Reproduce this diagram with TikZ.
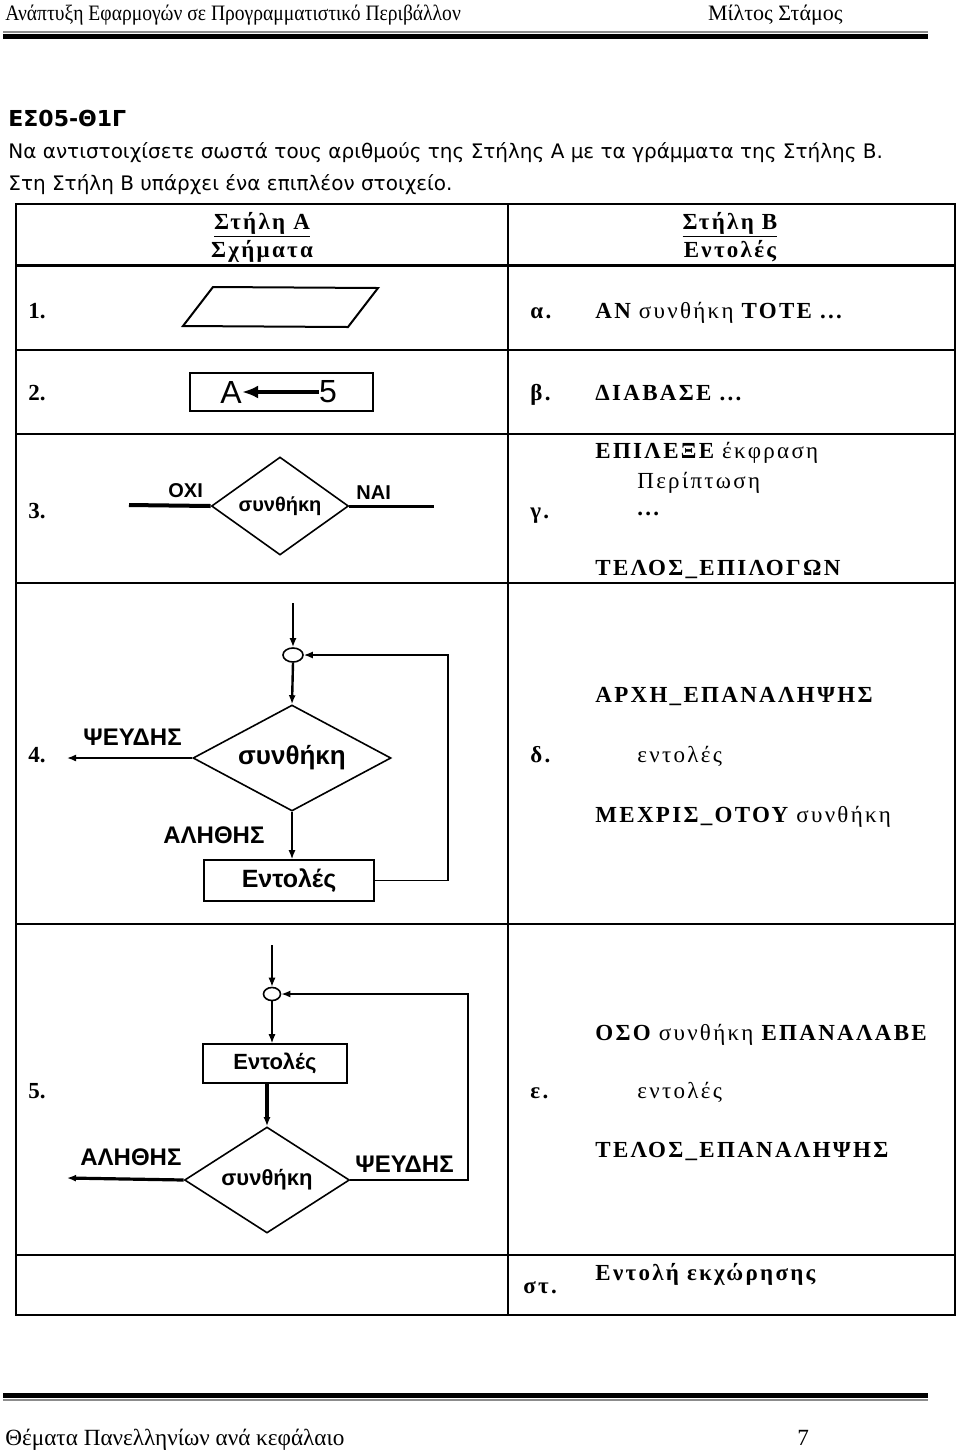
\documentclass[tikz,border=0pt]{standalone}
\usepackage{fontspec}
\setmainfont{Liberation Serif}
\newfontfamily\narrowfont[FakeStretch=0.89]{Liberation Serif}
\newfontfamily\titlefont{DejaVu Sans}
\newfontfamily\flowfont{Liberation Sans}
\newfontfamily\tabfont[LetterSpace=10]{Liberation Serif}
\usetikzlibrary{arrows.meta, positioning, shapes.geometric}

\begin{document}
\begin{tikzpicture}[x=0.5pt, y=-0.5pt,
  txt/.style = {anchor=base west, inner sep=0pt},
  pagetxt/.style = {txt, font=\fontsize{11}{12}\selectfont},
  titletxt/.style = {txt, font=\titlefont\fontsize{10}{12}\selectfont},
  tabtxt/.style = {txt, font=\tabfont\fontsize{11.5}{12}\selectfont},
  numtxt/.style = {txt, font=\bfseries\fontsize{11.5}{12}\selectfont},
  flowlbl/.style = {inner sep=0pt, font=\flowfont\bfseries\fontsize{12}{12}\selectfont},
  decision/.style = {diamond, draw, line width=0.8pt, inner sep=0pt},
  process/.style = {draw, line width=0.8pt, inner sep=0pt},
  junction/.style = {ellipse, draw, line width=0.8pt, inner sep=0pt, minimum width=10pt, minimum height=7pt},
  arrow/.style = {line width=0.8pt, -{Latex[length=4.5pt,width=3.5pt]}},
  grid/.style = {line width=1pt}
]
  \useasboundingbox (0,0) rectangle (960,1453);

  % ======================================================
  % page header and footer
  % ======================================================
  \node[pagetxt, font=\narrowfont\fontsize{11}{12}\selectfont] (headleft) at (5,20) {Ανάπτυξη Εφαρμογών σε Προγραμματιστικό Περιβάλλον};
  \node[pagetxt, anchor=base east] (headright) at (843,20) {Μίλτος Στάμος};
  \fill[black!45] (3,31) rectangle (928,32.5);
  \fill (3,33.5) rectangle (928,39);

  \fill (3,1393) rectangle (928,1398);
  \fill[black!45] (3,1399) rectangle (928,1400.5);
  \node[pagetxt, font=\fontsize{11.6}{12}\selectfont] (footleft) at (5,1445) {Θέματα Πανελληνίων ανά κεφάλαιο};
  \node[pagetxt, font=\fontsize{11.6}{12}\selectfont] (pagenum) at (797,1445) {7};

  % question text
  \node[titletxt, font=\titlefont\bfseries\fontsize{11}{12}\selectfont] (qcode) at (8,126) {ΕΣ05-Θ1Γ};
  \node[titletxt] (qline1) at (8,158) {Να αντιστοιχίσετε σωστά τους αριθμούς της Στήλης Α με τα γράμματα της Στήλης Β.};
  \node[titletxt] (qline2) at (8,190) {Στη Στήλη Β υπάρχει ένα επιπλέον στοιχείο.};

  % ======================================================
  % table grid
  % ======================================================
  \draw[grid] (16,204) rectangle (955,1315);
  \draw[grid] (508,204) -- (508,1315);
  \draw[line width=1.5pt] (16,265) -- (955,265);
  \foreach \y in {350,434,583,924,1255}
    \draw[grid] (16,\y) -- (955,\y);

  % column heads
  \node[tabtxt, anchor=base, font=\tabfont\bfseries\fontsize{11.5}{12}\selectfont] (headA) at (262,229) {\underline{Στήλη Α}};
  \node[tabtxt, anchor=base, font=\tabfont\bfseries\fontsize{11.5}{12}\selectfont] (subA) at (262,257) {Σχήματα};
  \node[tabtxt, anchor=base, font=\tabfont\bfseries\fontsize{11.5}{12}\selectfont] (headB) at (730,229) {\underline{Στήλη Β}};
  \node[tabtxt, anchor=base, font=\tabfont\bfseries\fontsize{11.5}{12}\selectfont] (subB) at (730,257) {Εντολές};

  % row numbers
  \node[numtxt] (n1) at (28,318) {1.};
  \node[numtxt] (n2) at (28,400) {2.};
  \node[numtxt] (n3) at (28,518) {3.};
  \node[numtxt] (n4) at (28,762) {4.};
  \node[numtxt] (n5) at (28,1098) {5.};

  % row letters
  \node[tabtxt] (la) at (530,318) {\bfseries α.};
  \node[tabtxt] (lb) at (530,400) {\bfseries β.};
  \node[tabtxt] (lg) at (530,518) {\bfseries γ.};
  \node[tabtxt] (ld) at (530,762) {\bfseries δ.};
  \node[tabtxt] (le) at (530,1098) {\bfseries ε.};
  \node[tabtxt] (lst) at (523,1293) {\bfseries στ.};

  % ======================================================
  % Column B commands
  % ======================================================
  \node[tabtxt] (cmdif) at (595,318) {\bfseries ΑΝ \mdseries συνθήκη \bfseries ΤΟΤΕ ...};
  \node[tabtxt] (cmdread) at (595,400) {\bfseries ΔΙΑΒΑΣΕ ...};
  \node[tabtxt] (cmdsel) at (595,458) {\bfseries ΕΠΙΛΕΞΕ \mdseries έκφραση};
  \node[tabtxt] (cmdcase) at (637,488) {Περίπτωση};
  \node[tabtxt] (cmddots) at (637,515) {\bfseries ...};
  \node[tabtxt] (cmdselend) at (595,575) {\bfseries ΤΕΛΟΣ\_ΕΠΙΛΟΓΩΝ};

  \node[tabtxt] (cmdrep) at (595,702) {\bfseries ΑΡΧΗ\_ΕΠΑΝΑΛΗΨΗΣ};
  \node[tabtxt] (cmdrepbody) at (637,762) {εντολές};
  \node[tabtxt] (cmduntil) at (595,822) {\bfseries ΜΕΧΡΙΣ\_ΟΤΟΥ \mdseries συνθήκη};

  \node[tabtxt] (cmdwhile) at (595,1040) {\bfseries ΟΣΟ \mdseries συνθήκη \bfseries ΕΠΑΝΑΛΑΒΕ};
  \node[tabtxt] (cmdwhilebody) at (637,1098) {εντολές};
  \node[tabtxt] (cmdwhileend) at (595,1157) {\bfseries ΤΕΛΟΣ\_ΕΠΑΝΑΛΗΨΗΣ};

  \node[tabtxt] (cmdassign) at (595,1280) {\bfseries Εντολή εκχώρησης};

  % ======================================================
  % Shape 1: input / output
  % ======================================================
  \draw[line width=1pt] (213,287) -- (378,288) -- (348,327) -- (183,326) -- cycle;

  % Shape 2: assignment
  \node[process, line width=1pt, minimum width=91.5pt, minimum height=19pt] (assignbox) at (281.5,392) {};
  \node[inner sep=0pt, font=\flowfont\fontsize{16}{16}\selectfont] (varA) at (231,392) {A};
  \node[inner sep=0pt, font=\flowfont\fontsize{16}{16}\selectfont] (valfive) at (328,392) {5};
  \draw[line width=2pt, -{Latex[length=8pt,width=6.5pt]}] (valfive.west) -- (varA.east);

  % Shape 3: decision
  \node[decision, minimum width=68.5pt, minimum height=49pt] (cond3) at (280,506) {};
  \node[flowlbl, font=\flowfont\bfseries\fontsize{10}{10}\selectfont] (cond3txt) at (cond3) {συνθήκη};
  \coordinate (no3) at (129,505);
  \coordinate (yes3) at (434,506);
  \draw[line width=2pt] (no3) -- (cond3.west);
  \draw[line width=1.5pt] (cond3.east) -- (yes3);
  \node[flowlbl, anchor=base west, font=\flowfont\bfseries\fontsize{10}{10}\selectfont] (no3txt) at (168,497) {ΟΧΙ};
  \node[flowlbl, anchor=base west, font=\flowfont\bfseries\fontsize{10}{10}\selectfont] (yes3txt) at (356,499) {ΝΑΙ};

  % ======================================================
  % Shape 4: while loop
  % ======================================================
  \coordinate (in4) at (293,603);
  \node[junction] (join4) at (293,655) {};
  \node[decision, minimum width=99pt, minimum height=53pt] (cond4) at (292,758) {};
  \node[flowlbl, font=\flowfont\bfseries\fontsize{13}{13}\selectfont] (cond4txt) at (cond4) {συνθήκη};
  \node[process, minimum width=85pt, minimum height=20.5pt, font=\flowfont\bfseries\fontsize{12.5}{12.5}\selectfont] (body4) at (289,880.5) {Εντολές};
  \coordinate (false4) at (67,758);
  \coordinate (loop4) at (448,655);

  \draw[arrow, line width=1.2pt] (in4) -- (join4.north);
  \draw[arrow, line width=1.2pt] (join4.south) -- (cond4.north);
  \draw[arrow] (cond4.west) -- (false4);
  \draw[arrow] (cond4.south) -- (cond4.south |- body4.north);
  \draw[arrow] (body4.east) -| (loop4) -- (join4.east);
  \node[flowlbl, anchor=base west] (false4txt) at (83,745) {ΨΕΥΔΗΣ};
  \node[flowlbl, anchor=base west] (true4txt) at (163,843) {ΑΛΗΘΗΣ};

  % ======================================================
  % Shape 5: repeat loop
  % ======================================================
  \coordinate (in5) at (272,945);
  \node[junction, minimum width=8.5pt, minimum height=6.5pt] (join5) at (272,994) {};
  \node[process, minimum width=72pt, minimum height=19.5pt, font=\flowfont\bfseries\fontsize{11}{11}\selectfont] (body5) at (275,1063.5) {Εντολές};
  \node[decision, minimum width=82.5pt, minimum height=53pt] (cond5) at (267,1180) {};
  \node[flowlbl, font=\flowfont\bfseries\fontsize{11}{11}\selectfont] (cond5txt) at (cond5) {συνθήκη};
  \coordinate (true5) at (67,1178);
  \coordinate (loop5) at (468,994);

  \draw[arrow, line width=0.6pt] (in5) -- (join5.north);
  \draw[arrow, line width=0.6pt] (join5.south) -- (join5.south |- body5.north);
  \draw[arrow, line width=1.6pt] (cond5.north |- body5.south) -- (cond5.north);
  \draw[arrow, line width=1.6pt] (cond5.west) -- (true5);
  \draw[arrow] (cond5.east) -| (loop5) -- (join5.east);
  \node[flowlbl, anchor=base west] (true5txt) at (80,1165) {ΑΛΗΘΗΣ};
  \node[flowlbl, anchor=base west] (false5txt) at (355,1172) {ΨΕΥΔΗΣ};

\end{tikzpicture}
\end{document}
